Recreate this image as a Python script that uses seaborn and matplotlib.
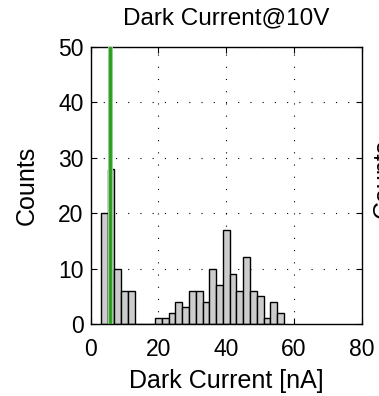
import numpy as np
import matplotlib
matplotlib.use("Agg")
import matplotlib.pyplot as plt
import seaborn as sns

# Histogram data (bin width 2 nA, bins start at odd integers)
bin_left = [3, 5, 7, 9, 11, 13, 15, 17, 19, 21, 23, 25, 27, 29, 31, 33, 35, 37,
            39, 41, 43, 45, 47, 49, 51, 53, 55]
counts = [20, 28, 10, 6, 6, 0, 0, 0, 1, 1, 2, 4, 3, 6, 6, 4, 10, 7,
          17, 9, 6, 12, 6, 5, 1, 4, 2]
marker_x = 5.7
xticks = [0, 20, 40, 60, 80]
yticks = [0, 10, 20, 30, 40, 50]

sns.set_style("white")
plt.rcParams['font.family'] = ['Liberation Sans', 'DejaVu Sans']
plt.rcParams['text.color'] = 'black'
plt.rcParams['axes.labelcolor'] = 'black'
plt.rcParams['xtick.color'] = 'black'
plt.rcParams['ytick.color'] = 'black'

fig = plt.figure(figsize=(3.79, 3.96), dpi=100)
ax = fig.add_axes([0.239, 0.182, 0.716, 0.699])

width = 2
centers = [b + width / 2 for b in bin_left]
edges = bin_left + [bin_left[-1] + width]
sns.histplot(x=centers, weights=counts, bins=edges, ax=ax,
             color='#cccccc', edgecolor='black', linewidth=1.0, alpha=1.0)

ax.axvline(marker_x, color='#8fd18f', lw=3.6, zorder=5)
ax.axvline(marker_x, color='#2e9a1c', lw=2.0, zorder=6)

ax.set_xlim(0, 80)
ax.set_ylim(0, 50)
ax.set_xticks(xticks)
ax.set_yticks(yticks)
ax.grid(True, linestyle=(0, (1, 10)), color='black', linewidth=0.8)
ax.set_axisbelow(True)
for s in ax.spines.values():
    s.set_visible(True)
    s.set_color('black')
    s.set_linewidth(1.0)
ax.tick_params(direction='in', length=4, width=0.8, labelsize=16.5, top=True, right=True,
               bottom=True, left=True, colors='black', labelcolor='black', pad=5)
ax.tick_params(axis='x', pad=10)
ax.set_title('Dark Current@10V', fontsize=17.5, pad=16, color='black')
ax.set_xlabel('Dark Current [nA]', fontsize=18, labelpad=6, color='black')
ax.set_ylabel('Counts', fontsize=18, labelpad=14, color='black')

# clipped label of the neighbouring panel at right edge
fig.text(0.982, 0.55, 'Counts', rotation=90, fontsize=18, ha='left', va='center',
         color='black')

fig.savefig('out.png', dpi=100)
